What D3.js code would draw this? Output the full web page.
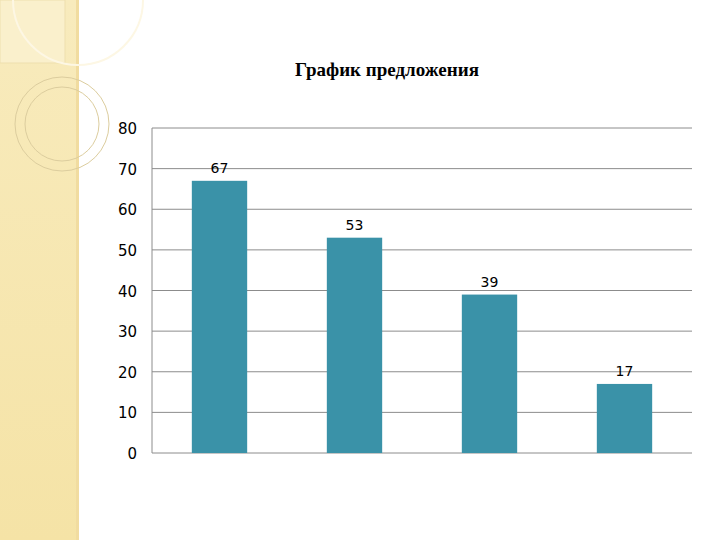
<!DOCTYPE html>
<html><head><meta charset="utf-8">
<script src="https://cdn.jsdelivr.net/npm/d3@7"></script>
<style>body{margin:0;background:#fff}</style></head>
<body><svg id="c" width="720" height="540"></svg>
<script>
const categories = ["A","B","C","D"];
const values = [67, 53, 39, 17];
const ticks = [0,10,20,30,40,50,60,70,80];
const title = "График предложения";

const svg = d3.select("#c");
// decoration strip
const defs = svg.append("defs");
const g1 = defs.append("linearGradient").attr("id","strip").attr("x1",0).attr("x2",0).attr("y1",0).attr("y2",1);
g1.append("stop").attr("offset","0").attr("stop-color","#f8ebbd");
g1.append("stop").attr("offset","1").attr("stop-color","#f5e3a6");
svg.append("rect").attr("x",0).attr("y",0).attr("width",78).attr("height",540).attr("fill","url(#strip)");
svg.append("rect").attr("x",76).attr("y",0).attr("width",3).attr("height",540).attr("fill","#f1dca0");
svg.append("rect").attr("x",0).attr("y",0).attr("width",65).attr("height",63).attr("fill","#faf0cc").attr("stroke","#eedfae");
svg.append("circle").attr("cx",78).attr("cy",0).attr("r",65).attr("fill","none").attr("stroke","#fdf7e4").attr("stroke-width",2);
svg.append("circle").attr("cx",62).attr("cy",124).attr("r",47).attr("fill","none").attr("stroke","#dccd9e");
svg.append("circle").attr("cx",62).attr("cy",124).attr("r",37).attr("fill","none").attr("stroke","#dccd9e");

svg.append("text").attr("x",387).attr("y",76).attr("text-anchor","middle")
  .attr("font-family","Liberation Serif").attr("font-weight","bold").attr("font-size",19).text(title);

const x = d3.scaleBand().domain(categories).range([152,692]).paddingInner(0.59).paddingOuter(0.295);
const y = d3.scaleLinear().domain([0,80]).range([453,128]);

svg.append("g").selectAll("line").data(ticks).join("line")
  .attr("x1",152).attr("x2",692).attr("y1",d=>y(d)).attr("y2",d=>y(d)).attr("stroke","#8c8c8c");
svg.append("line").attr("x1",152).attr("x2",152).attr("y1",128).attr("y2",453).attr("stroke","#8c8c8c");
svg.append("g").selectAll("text").data(ticks).join("text")
  .attr("x",137).attr("y",d=>y(d)+6).attr("text-anchor","end")
  .attr("font-family","DejaVu Sans").attr("font-size",15).text(d=>d);

svg.append("g").selectAll("rect").data(values).join("rect")
  .attr("x",(d,i)=>x(categories[i])).attr("width",x.bandwidth())
  .attr("y",d=>y(d)).attr("height",d=>y(0)-y(d)).attr("fill","#3a92a8");
svg.append("g").selectAll("text").data(values).join("text")
  .attr("x",(d,i)=>x(categories[i])+x.bandwidth()/2).attr("y",d=>y(d)-8).attr("text-anchor","middle")
  .attr("font-family","DejaVu Sans").attr("font-size",14).text(d=>d);
</script></body></html>
